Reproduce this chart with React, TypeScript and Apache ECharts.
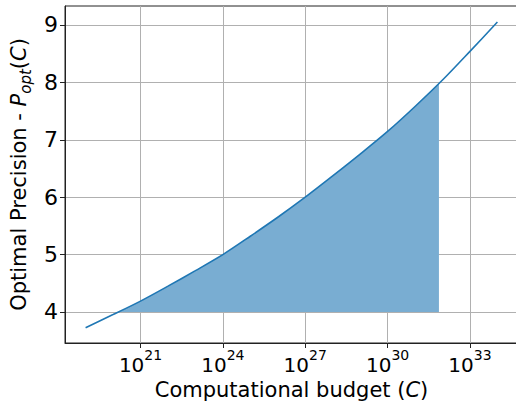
import React, { useEffect, useRef } from "react";
import * as echarts from "echarts";

// log10 of computational budget C
const logBudget = [19, 20, 21, 22, 23, 24, 25, 26, 27, 28, 29, 30, 31, 32, 33, 34];
// optimal precision P_opt(C)
const precision = [3.727, 3.955, 4.19, 4.45, 4.72, 5.0, 5.32, 5.65, 6.0, 6.37, 6.75, 7.145, 7.58, 8.04, 8.54, 9.05];

// shaded region (between P = 4 and the curve)
const fillLogBudget = [20.245, 21, 22, 23, 24, 25, 26, 27, 28, 29, 30, 31, 31.87];
const fillPrecision = [4.0, 4.19, 4.45, 4.72, 5.0, 5.32, 5.65, 6.0, 6.37, 6.75, 7.145, 7.58, 7.98];
const fillBase = 4;

const xTicks = [21, 24, 27, 30, 33];
const yTicks = [4, 5, 6, 7, 8, 9];

const FONT = "DejaVu Sans";

export default function App() {
  const ref = useRef<HTMLDivElement>(null);
  useEffect(() => {
    if (!ref.current) return;
    const chart = echarts.init(ref.current, null, { renderer: "svg" });
    const gridColor = "#b0b0b0";
    chart.setOption({
      animation: false,
      backgroundColor: "#fff",
      grid: {
        left: 65,
        right: -2,
        top: 6,
        bottom: 61,
        show: true,
        borderColor: "#222",
        borderWidth: 1,
        outerBoundsMode: "none",
        containLabel: false,
      },
      xAxis: {
        type: "value",
        min: 18.25,
        max: 34.75,
        name: "Computational budget ({i|C})",
        nameLocation: "middle",
        nameGap: 33,
        nameTextStyle: {
          fontFamily: FONT,
          fontSize: 21,
          color: "#000",
          rich: { i: { fontFamily: FONT, fontSize: 21, fontStyle: "italic", color: "#000" } },
        },
        axisLine: { show: true, lineStyle: { color: "#222", width: 1 } },
        axisTick: { show: true, length: 5, lineStyle: { color: "#222" }, customValues: xTicks },
        splitLine: { show: true, lineStyle: { color: gridColor, width: 1 } },
        axisLabel: {
          customValues: xTicks,
          margin: 5,
          formatter: (v: number) => `{b|10}{s|${Math.round(v)}}`,
          rich: {
            b: { fontFamily: FONT, fontSize: 20, color: "#000", lineHeight: 27, verticalAlign: "bottom" },
            s: { fontFamily: FONT, fontSize: 14, color: "#000", lineHeight: 14, verticalAlign: "top" },
          },
        },
      },
      yAxis: {
        type: "value",
        min: 3.46,
        max: 9.33,
        name: "Optimal Precision - {i|P}{sub|opt}({i|C})",
        nameLocation: "middle",
        nameGap: 31,
        nameRotate: 90,
        nameTextStyle: {
          fontFamily: FONT,
          fontSize: 21,
          color: "#000",
          lineHeight: 28,
          rich: {
            i: { fontFamily: FONT, fontSize: 21, fontStyle: "italic", color: "#000", lineHeight: 28 },
            sub: { fontFamily: FONT, fontSize: 15, fontStyle: "italic", color: "#000", lineHeight: 15, verticalAlign: "bottom" },
          },
        },
        axisLine: { show: true, lineStyle: { color: "#222", width: 1 } },
        axisTick: { show: true, length: 5, lineStyle: { color: "#222" }, customValues: yTicks },
        splitLine: { show: true, lineStyle: { color: gridColor, width: 1 } },
        axisLabel: {
          customValues: yTicks,
          margin: 7,
          fontFamily: FONT,
          fontSize: 22,
          color: "#000",
        },
      },
      series: [
        {
          type: "line",
          data: fillLogBudget.map((x, i) => [x, fillPrecision[i]]),
          symbol: "none",
          smooth: 0.3,
          lineStyle: { width: 0, opacity: 0 },
          areaStyle: { color: "#79add2", opacity: 1, origin: fillBase },
          z: 2,
        },
        {
          type: "line",
          data: logBudget.map((x, i) => [x, precision[i]]),
          symbol: "none",
          smooth: 0.3,
          lineStyle: { color: "#1f77b4", width: 1.6 },
          z: 3,
        },
      ],
    });
    return () => chart.dispose();
  }, []);
  return (
    <div
      ref={ref}
      style={{ position: "absolute", left: 0, top: 0, width: 516, height: 404 }}
    />
  );
}
